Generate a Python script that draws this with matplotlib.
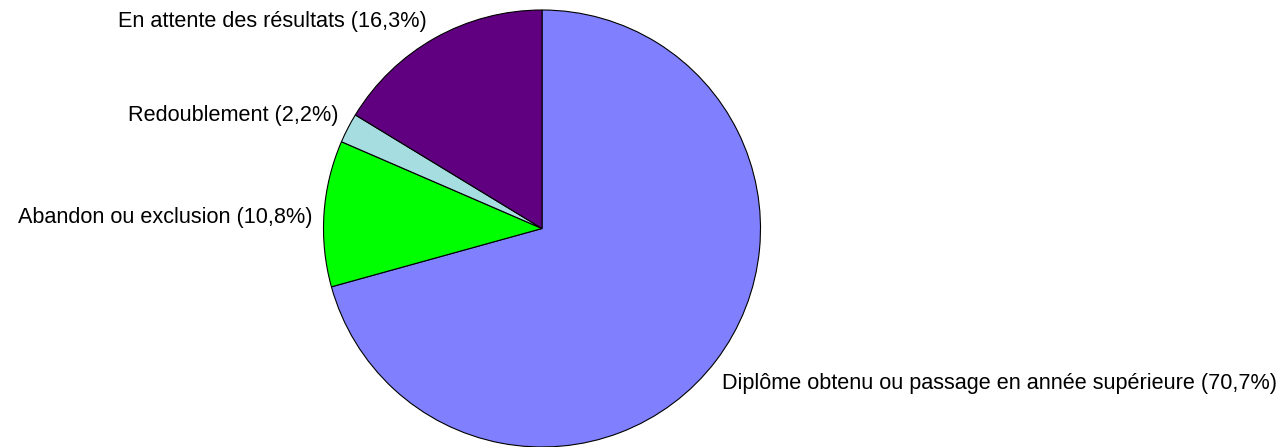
import matplotlib
matplotlib.use("Agg")
import matplotlib.pyplot as plt

# Data
categories = [
    "Diplôme obtenu ou passage en année supérieure",
    "Abandon ou exclusion",
    "Redoublement",
    "En attente des résultats",
]
values = [70.7, 10.8, 2.2, 16.3]
colors = ["#8080FF", "#00FF00", "#A6DDE0", "#600080"]

W, H = 1281, 447
fig = plt.figure(figsize=(W / 100, H / 100), dpi=100)
ax = fig.add_axes([0, 0, 1, 1])

# Pie in pixel units
cx, cy, r = 542, H - 228.5, 218.5
ax.pie(values, colors=colors, startangle=90, counterclock=False,
       center=(cx, cy), radius=r, frame=True,
       wedgeprops=dict(edgecolor="black", linewidth=0.8))

ax.set_xlim(0, W)
ax.set_ylim(0, H)
ax.set_aspect("equal")
ax.axis("off")

# Labels (text position in pixels: x, y-from-top, alignment)
label_pos = [(722, 383, "left"), (313, 217, "right"),
             (339, 116, "right"), (427, 21, "right")]
for name, v, (x, y, ha) in zip(categories, values, label_pos):
    txt = f"{name} ({v:.1f}%)".replace(".", ",")
    ax.text(x, H - y, txt, ha=ha, va="center", fontsize=15.6,
            family="Liberation Sans", color="black")

fig.savefig("out.png", dpi=100, facecolor="white")
